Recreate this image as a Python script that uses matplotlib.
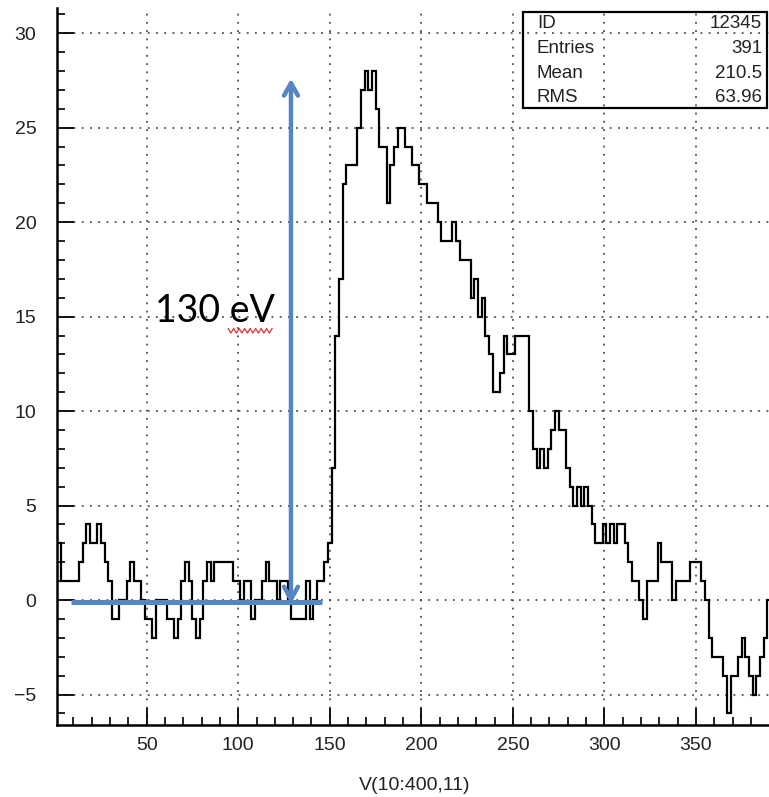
import numpy as np
import matplotlib
matplotlib.use("Agg")
import matplotlib.pyplot as plt
from matplotlib.patches import Rectangle
from matplotlib.ticker import MultipleLocator

# ---------------- data ----------------
bin_start = 1
bin_width = 2
counts = [
    3, 1, 1, 1, 1, 1, 2, 3, 4, 3,
    3, 4, 3, 2, 1, -1, -1, 0, 0, 1,
    2, 1, 1, 0, -1, -1, -2, 0, 0, 0,
    -1, -1, -2, -1, 1, 2, 1, -1, -2, -1,
    1, 2, 1, 2, 2, 2, 2, 2, 1, 1,
    0, 1, 1, -1, 0, 0, 1, 2, 1, 1,
    0, 1, 1, 0, -1, -1, -1, -1, 1, -1,
    0, 1, 1, 2, 3, 7, 14, 17, 22, 23,
    23, 23, 25, 27, 28, 27, 28, 26, 24, 24,
    21, 23, 24, 25, 25, 24, 24, 23, 23, 22,
    22, 21, 21, 21, 20, 19, 19, 19, 20, 19,
    18, 18, 18, 16, 17, 15, 16, 14, 13, 11,
    11, 12, 14, 13, 13, 14, 14, 14, 14, 10,
    8, 7, 8, 7, 8, 9, 10, 9, 9, 7,
    6, 5, 6, 5, 6, 5, 4, 3, 3, 4,
    3, 4, 3, 4, 4, 3, 2, 1, 1, 0,
    -1, 1, 1, 1, 3, 2, 2, 2, 0, 1,
    1, 1, 1, 2, 2, 2, 1, 0, -2, -3,
    -3, -3, -4, -6, -4, -4, -3, -2, -3, -4,
    -5, -4, -3, -2, 0,
]
edges = bin_start + bin_width * np.arange(len(counts) + 1)

x_ticks = [50, 100, 150, 200, 250, 300, 350]
y_ticks = [-5, 0, 5, 10, 15, 20, 25, 30]
x_label = "V(10:400,11)"

stats_names = ["ID", "Entries", "Mean", "RMS"]
stats_values = ["12345", "391", "210.5", "63.96"]

annot_text = "130 eV"
baseline_from, baseline_to, baseline_level = 8.5, 145.6, -0.08
arrow_x, arrow_bottom, arrow_top = 128.8, -0.2, 27.6

# ---------------- figure ----------------
W, H = 769, 797
fig = plt.figure(figsize=(W / 100, H / 100), dpi=100)
ax_l, ax_r, ax_t, ax_b = 57.3, 769, 8, 725
ax = fig.add_axes([ax_l / W, 1 - ax_b / H, (ax_r - ax_l) / W, (ax_b - ax_t) / H])

ax.stairs(counts, edges, color="black", lw=1.6, baseline=None)

ax.set_xlim(1.17, 389.9)
ax.set_ylim(-6.61, 31.33)

ax.set_xticks(x_ticks)
ax.set_yticks(y_ticks)
ax.xaxis.set_minor_locator(MultipleLocator(10))
ax.yaxis.set_minor_locator(MultipleLocator(1))
ax.tick_params(which="major", direction="in", length=12, width=1.3,
               labelsize=14, colors="black", labelcolor="#222222")
ax.tick_params(axis="y", which="major", pad=15)
ax.tick_params(axis="x", which="major", pad=9)
ax.tick_params(which="minor", direction="in", length=6, width=1.2)
for lab in ax.get_xticklabels() + ax.get_yticklabels():
    lab.set_family("Liberation Sans")

ax.grid(True, which="major", linestyle=(0, (1.2, 4.2)), color="#333333", lw=1.1)
ax.set_axisbelow(True)

for s in ["left", "bottom"]:
    ax.spines[s].set_linewidth(1.8)
ax.spines["top"].set_visible(False)
ax.spines["right"].set_visible(False)

# blue annotation
blue = "#5585c3"
ax.plot([baseline_from, baseline_to], [baseline_level, baseline_level],
        color=blue, lw=3.6, solid_capstyle="butt", zorder=5)
ax.annotate("", xy=(arrow_x, arrow_top), xytext=(arrow_x, arrow_bottom),
            arrowprops=dict(arrowstyle="<->,head_length=0.9,head_width=0.5",
                            color=blue, lw=3.2, shrinkA=0, shrinkB=0), zorder=6)
ax.text(54.5, 14.7, annot_text, fontsize=27, family="Lato",
        ha="left", va="baseline", color="black", zorder=7)
# spell-check squiggle under "eV"
sq_x = np.linspace(94.5, 118.5, 17)
sq_y = 14.25 + 0.12 * np.array([(-1) ** i for i in range(len(sq_x))])
ax.plot(sq_x, sq_y, color="#e03030", lw=0.9, zorder=7)

# stats box (figure coordinates)
bx0, bx1, by0, by1 = 522.7, 767.0, 11.7, 108.0
fig.add_artist(Rectangle((bx0 / W, 1 - by1 / H), (bx1 - bx0) / W, (by1 - by0) / H,
                         transform=fig.transFigure, fill=False, ec="black", lw=1.6))
row_y = [24, 48.5, 73, 97.5]
for name, val, yy in zip(stats_names, stats_values, row_y):
    fig.text(537 / W, 1 - yy / H, name, fontsize=13.5, family="Liberation Sans",
             ha="left", va="center", color="#222222")
    fig.text(762 / W, 1 - yy / H, val, fontsize=13.5, family="Liberation Sans",
             ha="right", va="center", color="#222222")

fig.text(415 / W, 1 - 786 / H, x_label, fontsize=14, family="Liberation Sans",
         ha="center", va="center", color="#222222")

fig.savefig("out.png", dpi=100)
